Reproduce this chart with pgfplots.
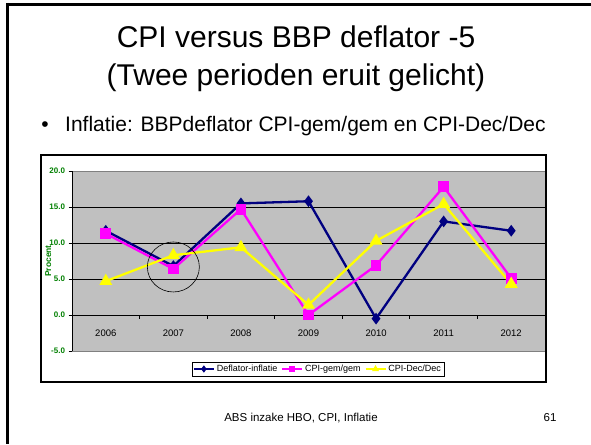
\documentclass[border=0pt]{standalone}
\usepackage{pgfplots}
\pgfplotsset{compat=1.18}
\usepackage{fontspec}
\setmainfont{Liberation Sans}
\definecolor{navyc}{HTML}{000080}
\definecolor{magc}{HTML}{FF00FF}
\definecolor{yelc}{HTML}{FFFF00}
\definecolor{plotgray}{HTML}{C0C0C0}
\definecolor{tickgreen}{HTML}{008000}
\begin{document}
\begin{tikzpicture}
\path[use as bounding box] (0,0) rectangle (591pt,-444pt);
\fill[white] (0,0) rectangle (591pt,-444pt);
\draw[black, line width=2.5pt] (6pt,-4.5pt) -- (591pt,-4.5pt);
\draw[black, line width=3pt] (7.5pt,-3pt) -- (7.5pt,-444pt);
\node[font=\fontsize{30}{36}\selectfont] at (296pt,-37pt) {CPI versus BBP deflator -5};
\node[font=\fontsize{30}{36}\selectfont] at (296pt,-78pt) {(Twee perioden eruit gelicht)};
\node[font=\fontsize{21}{25}\selectfont, anchor=base west, inner sep=0pt] at (65pt,-131pt) {Inflatie: BBPdeflator CPI-gem/gem en CPI-Dec/Dec};
\node[font=\fontsize{21}{25}\selectfont, anchor=base, inner sep=0pt] at (45pt,-131pt) {\textbullet};
\draw[black, line width=1.2pt] (41pt,-155pt) rectangle (546pt,-382pt);
\begin{axis}[
  at={(72pt,-351pt)}, anchor=south west,
  scale only axis, width=473pt, height=180pt,
  xmin=-0.5, xmax=6.5, ymin=-5, ymax=20,
  axis background/.style={fill=plotgray},
  separate axis lines,
  x axis line style={draw=black!50, line width=0.8pt},
  y axis line style={draw=black, line width=0.8pt},
  xtick={0,...,6}, xticklabels={2006,2007,2008,2009,2010,2011,2012},
  major x tick style={draw=none},
  xticklabel style={anchor=center, yshift=21pt, font=\fontsize{9.5}{11}\selectfont},
  ytick={-5,0,5,10,15,20}, yticklabels={-5.0,0.0,5.0,10.0,15.0,20.0},
  yticklabel style={font=\fontsize{8}{9}\selectfont\bfseries, text=tickgreen},
  tick align=outside, ytick pos=left,
  major tick length=3.5pt,
  major y tick style={black, line width=0.8pt},
  ylabel={Procent},
  ylabel style={at={(axis description cs:-0.05,0.5)}, anchor=center, font=\fontsize{8.5}{10}\selectfont\bfseries, text=tickgreen},
  legend style={at={(axis description cs:0.52,-0.1)}, anchor=center, legend columns=3, draw=black, fill=white, font=\fontsize{9}{10}\selectfont, inner sep=1pt, row sep=0pt, /tikz/every even column/.append style={column sep=2pt}},
  legend image code/.code={\draw[mark repeat=2, mark phase=2, #1] plot coordinates {(0pt,0pt) (10pt,0pt) (20pt,0pt)};},
  legend image post style={mark size=2.2pt, line width=1.8pt},
  legend cell align=left,
  clip=false,
]
\pgfplotsinvokeforeach{0,5,10,15}{\draw[black, line width=0.8pt] (axis cs:-0.5,#1) -- (axis cs:6.5,#1);}
\pgfplotsinvokeforeach{-0.5,0.5,1.5,2.5,3.5,4.5,5.5,6.5}{\draw[black, line width=0.8pt] (axis cs:#1,0) -- ++(0pt,-4pt);}
\addplot[navyc, line width=2.3pt, mark=diamond*, mark size=4pt, mark options={solid}]
  coordinates {(0,11.7) (1,6.8) (2,15.5) (3,15.8) (4,-0.5) (5,13.0) (6,11.7)};
\addlegendentry{Deflator-inflatie}
\addplot[magc, line width=2.3pt, mark=square*, mark size=4.2pt, mark options={solid}]
  coordinates {(0,11.3) (1,6.4) (2,14.7) (3,0.0) (4,6.9) (5,17.8) (6,5.1)};
\addlegendentry{CPI-gem/gem}
\addplot[yelc, line width=2.3pt, mark=triangle*, mark size=5.2pt, mark options={solid}]
  coordinates {(0,4.7) (1,8.3) (2,9.4) (3,1.4) (4,10.3) (5,15.4) (6,4.3)};
\addlegendentry{CPI-Dec/Dec}
\draw[black, line width=0.6pt] (axis cs:1,6.67) ellipse [x radius=26pt, y radius=25pt];
\end{axis}
\node[font=\fontsize{11.5}{14}\selectfont] at (301pt,-418pt) {ABS inzake HBO, CPI, Inflatie};
\node[font=\fontsize{11.5}{14}\selectfont] at (550pt,-418pt) {61};
\end{tikzpicture}
\end{document}
